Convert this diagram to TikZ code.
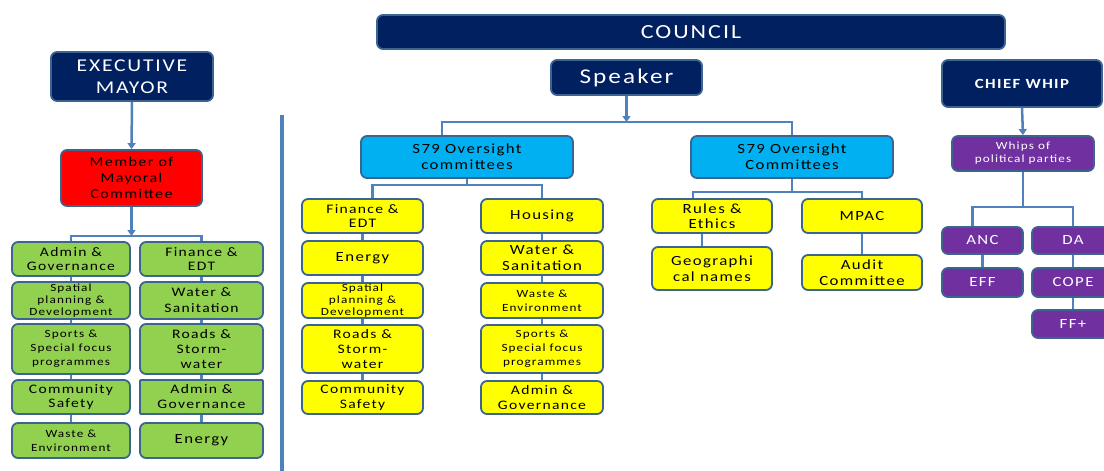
\documentclass[tikz,border=0pt]{standalone}
\usepackage{fontspec}
\setmainfont{Carlito}[LetterSpace=10,FakeStretch=1.2]
\usetikzlibrary{arrows.meta}
\definecolor{navy}{RGB}{0,32,96}
\definecolor{bord}{RGB}{60,100,145}
\definecolor{lineblue}{RGB}{79,129,189}
\definecolor{gfill}{RGB}{146,208,80}
\definecolor{yfill}{RGB}{255,255,0}
\definecolor{cfill}{RGB}{0,176,240}
\definecolor{pfill}{RGB}{112,48,160}
\definecolor{rfill}{RGB}{255,0,0}
\newcommand\bx[9]{\node[#1, minimum width={#4-#2}, minimum height={#5-#3}, font={\fontsize{#7}{#8}\selectfont}] (#6) at ({(#2+#4)/2},{(#3+#5)/2}) {#9};}
\tikzset{
  box/.style={draw=bord, line width=1.8pt, rounded corners=6pt, align=center, inner sep=0pt},
  navybox/.style={box, fill=navy, text=white},
  greenbox/.style={box, fill=gfill, text=black},
  yellowbox/.style={box, fill=yfill, text=black},
  cyanbox/.style={box, fill=cfill, text=black},
  purplebox/.style={box, fill=pfill, text=white},
  redbox/.style={box, fill=rfill, text=black},
  conn/.style={draw=lineblue, line width=2.5pt},
  arr/.style={conn, -{Triangle[width=8pt,length=6pt]}},
}
\begin{document}
\begin{tikzpicture}[x=1pt,y=-1pt]
\clip (0,0) rectangle (1104,471);
\fill[white] (0,0) rectangle (1104,471);
% divider
\draw[draw=lineblue, line width=4pt] (282,115) -- (282,471);
% top
\bx{navybox}{377}{15}{1005}{49}{council}{20}{22}{COUNCIL}
\bx{navybox}{551}{60}{702}{95}{speaker}{21}{23}{Speaker}
\bx{navybox}{942}{60}{1102}{107}{cw}{14}{16}{\bfseries CHIEF WHIP}
\bx{navybox}{51}{52}{213}{101}{em}{18}{22}{EXECUTIVE\\MAYOR}
\bx{redbox}{61}{150}{202}{206}{mmc}{13.5}{16}{Member of\\Mayoral\\Committee}
% green columns
\bx{greenbox}{12}{242}{130}{276}{gA1}{13}{14.5}{Admin \&\\Governance}
\bx{greenbox}{12}{282}{130}{319}{gA2}{11}{12}{Spatial\\planning \&\\Development}
\bx{greenbox}{12}{324}{130}{374}{gA3}{11}{14}{Sports \&\\Special focus\\programmes}
\bx{greenbox}{12}{380}{130}{414}{gA4}{13}{14.5}{Community\\Safety}
\bx{greenbox}{12}{423}{130}{458}{gA5}{11}{14}{Waste \&\\Environment}
\bx{greenbox}{140}{242}{263}{276}{gB1}{13}{14.5}{Finance \&\\EDT}
\bx{greenbox}{140}{282}{263}{319}{gB2}{13}{16}{Water \&\\Sanitation}
\bx{greenbox}{140}{324}{263}{374}{gB3}{13}{15}{Roads \&\\Storm-\\water}
\bx{greenbox, rounded corners=1pt}{140}{380}{263}{414}{gB4}{13}{15}{Admin \&\\Governance}
\bx{greenbox}{140}{423}{263}{458}{gB5}{14}{16}{Energy}
% S79
\bx{cyanbox}{361}{136}{573}{178}{s1}{14}{16}{S79 Oversight\\committees}
\bx{cyanbox}{691}{136}{893}{178}{s2}{14}{16}{S79 Oversight\\Committees}
% yellow columns
\bx{yellowbox}{302}{199}{423}{233}{yA1}{13}{14}{Finance \&\\EDT}
\bx{yellowbox}{302}{241}{423}{275}{yA2}{14}{16}{Energy}
\bx{yellowbox}{302}{283}{423}{318}{yA3}{11}{12}{Spatial\\planning \&\\Development}
\bx{yellowbox}{302}{325}{423}{373}{yA4}{13}{15}{Roads \&\\Storm-\\water}
\bx{yellowbox}{302}{381}{423}{414}{yA5}{13}{15}{Community\\Safety}
\bx{yellowbox}{481}{199}{603}{233}{yB1}{14}{16}{Housing}
\bx{yellowbox}{481}{241}{603}{275}{yB2}{14}{16}{Water \&\\Sanitation}
\bx{yellowbox}{481}{283}{603}{318}{yB3}{11}{14}{Waste \&\\Environment}
\bx{yellowbox}{481}{325}{603}{373}{yB4}{11}{14}{Sports \&\\Special focus\\programmes}
\bx{yellowbox}{481}{381}{603}{414}{yB5}{13}{15}{Admin \&\\Governance}
\bx{yellowbox}{652}{199}{772}{233}{rules}{14}{15}{Rules \&\\Ethics}
\bx{yellowbox}{802}{199}{922}{233}{mpac}{14}{16}{MPAC}
\bx{yellowbox}{652}{247}{772}{290}{geo}{14}{16}{Geographi\\cal names}
\bx{yellowbox}{802}{255}{922}{290}{audit}{14}{16}{Audit\\Committee}
% whips
\bx{purplebox}{952}{136}{1094}{171}{whips}{11}{13}{Whips of\\political parties}
\bx{purplebox}{942}{227}{1023}{254}{anc}{14}{16}{ANC}
\bx{purplebox}{1032}{227}{1114}{254}{da}{14}{16}{DA}
\bx{purplebox}{942}{268}{1023}{297}{eff}{14}{16}{EFF}
\bx{purplebox}{1032}{268}{1114}{297}{cope}{14}{16}{COPE}
\bx{purplebox}{1032}{310}{1114}{338}{ff}{14}{16}{FF+}
% connector junctions
\coordinate (mbar) at (131.5,236);
\coordinate (spbar) at (626.5,122);
\coordinate (s1bar) at (467,185);
\coordinate (s2bar) at (792,192);
\coordinate (wbar) at (1023,207);
% connectors
\draw[arr] (em.south) -- (mmc.north);
\draw[arr] (mmc.south) -- (mbar);
\draw[conn] (gA1.north) |- (mbar) -| (gB1.north);
\foreach \c in {gA,gB,yA,yB}{
  \draw[conn] (\c1.south) -- (\c2.north);
  \draw[conn] (\c2.south) -- (\c3.north);
  \draw[conn] (\c3.south) -- (\c4.north);
  \draw[conn] (\c4.south) -- (\c5.north);
}
\draw[arr] (speaker.south) -- (spbar);
\draw[conn] ([xshift=-25pt]s1.north) |- (spbar) -| (s2.north);
\draw[conn] (s1.south) -- (s1bar);
\draw[conn] ([xshift=10pt]yA1.north) |- (s1bar) -| (yB1.north);
\draw[conn] (s2.south) -- (s2bar);
\draw[conn] ([xshift=-19pt]rules.north) |- (s2bar) -| (mpac.north);
\draw[conn] ([xshift=-10pt]rules.south) -- ([xshift=-10pt]geo.north);
\draw[conn] (mpac.south) -- (audit.north);
\draw[arr] (cw.south) -- (whips.north);
\draw[conn] (whips.south) -- (wbar);
\draw[conn] ([xshift=-10pt]anc.north) |- (wbar) -| (da.north);
\draw[conn] (anc.south) -- (eff.north);
\draw[conn] (da.south) -- (cope.north);
\draw[conn] (cope.south) -- (ff.north);
\end{tikzpicture}
\end{document}
